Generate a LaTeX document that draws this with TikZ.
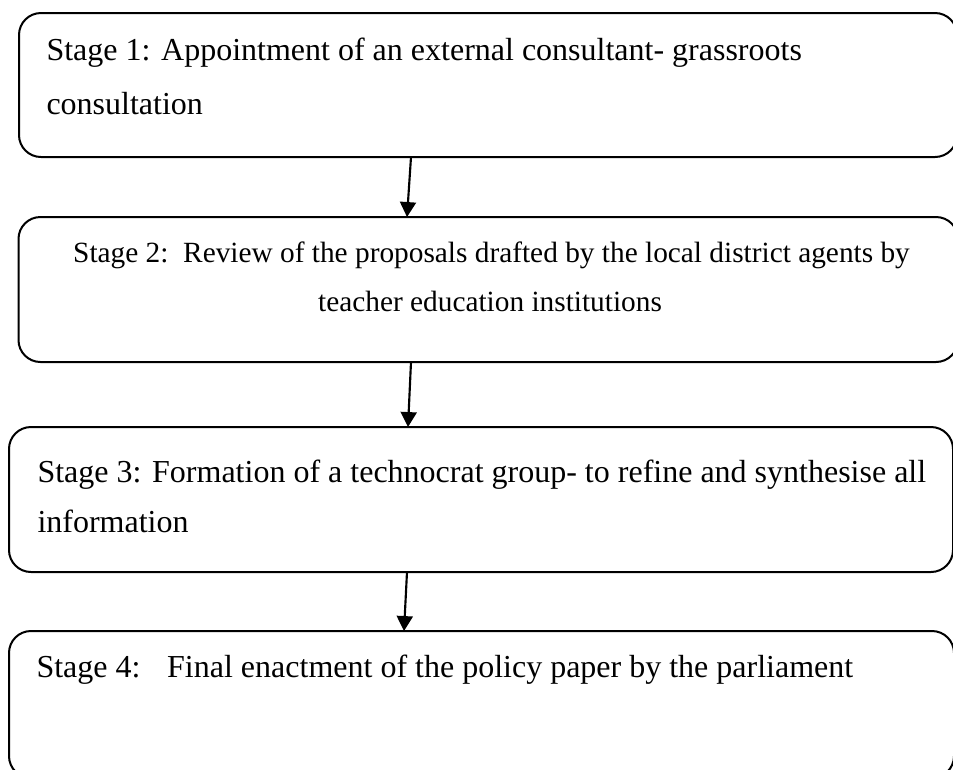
\documentclass[tikz,border=0pt]{standalone}
\usepackage{fontspec}
\setmainfont{Liberation Serif}
\usetikzlibrary{arrows.meta}
\begin{document}
\begin{tikzpicture}[x=0.375pt,y=-0.375pt,
  stage/.style={draw, line width=0.75pt, rounded corners=8.25pt, inner sep=0pt, outer sep=0pt},
  txt/.style={inner sep=0pt, font=\fontsize{12}{14}\selectfont},
  smalltxt/.style={inner sep=0pt, font=\fontsize{11}{13}\selectfont},
  flow/.style={line width=0.8pt, -{Triangle[length=5.6pt,width=6pt]}}]
\useasboundingbox (0,0) rectangle (953,769);

% stage boxes
\node[stage, minimum width={938*0.375pt}, minimum height={144*0.375pt}] (b1) at (488,85) {};
\node[stage, minimum width={939.5*0.375pt}, minimum height={145*0.375pt}] (b2) at (488.25,289.5) {};
\node[stage, minimum width={944*0.375pt}, minimum height={145*0.375pt}] (b3) at (481,499.5) {};
\node[stage, minimum width={945*0.375pt}, minimum height={147*0.375pt}] (b4) at (481.5,704.5) {};

% stage texts
\node[txt, anchor=base west] (t1a) at (46,60) {Stage 1: Appointment of an external consultant- grassroots};
\node[txt, anchor=base west] (t1b) at (46,114) {consultation};
\node[smalltxt, anchor=base] (t2a) at (491.5,262) {Stage 2:\ \ Review of the proposals drafted by the local district agents by};
\node[smalltxt, anchor=base] (t2b) at (490,311) {teacher education institutions};
\node[txt, anchor=base west] (t3a) at (37,482) {Stage 3: Formation of a technocrat group- to refine and synthesise all};
\node[txt, anchor=base west] (t3b) at (37,532) {information};
\node[txt, anchor=base west] (t4a) at (36,677) {Stage 4:\hspace{10pt}Final enactment of the policy paper by the parliament};

% connectors
\draw[flow] (b1.south -| 411,0) -- (b2.north -| 407,0);
\draw[flow] (b2.south -| 411,0) -- (b3.north -| 408,0);
\draw[flow] (b3.south -| 407,0) -- (b4.north -| 404,0);
\end{tikzpicture}
\end{document}
